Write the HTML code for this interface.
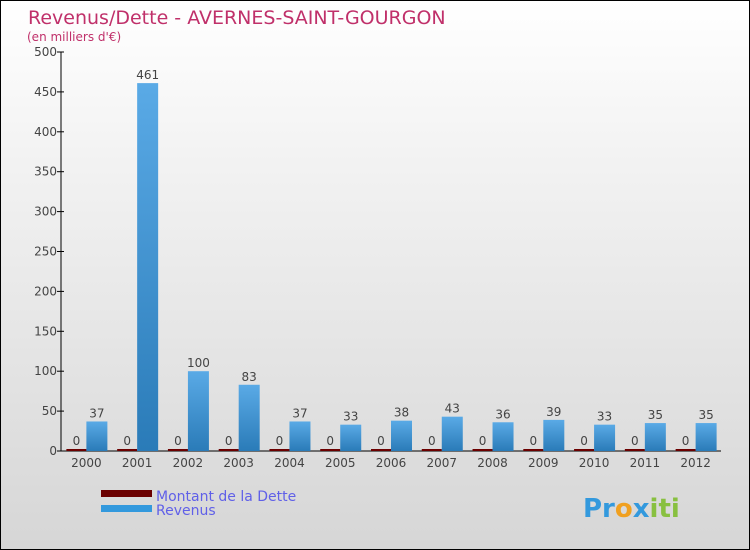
<!DOCTYPE html>
<html><head><meta charset="utf-8"><style>
body{margin:0;}
#c{width:750px;height:550px;position:relative;box-sizing:border-box;border:1px solid #000;background:linear-gradient(#fff,#f2f2f2 30%,#d6d6d6);font-family:"DejaVu Sans","Liberation Sans",sans-serif;overflow:hidden}
svg text{font-family:"DejaVu Sans","Liberation Sans",sans-serif}
</style></head><body>
<div id="c">
<svg id="s" width="750" height="550" xmlns="http://www.w3.org/2000/svg">
<defs>
<linearGradient id="gb" x1="0" y1="0" x2="0" y2="1"><stop offset="0" stop-color="#5aaae6"/><stop offset="1" stop-color="#2a7bb8"/></linearGradient>
</defs>
<text x="27" y="23" font-size="19" fill="#c0306a">Revenus/Dette - AVERNES-SAINT-GOURGON</text>
<text x="26" y="40" font-size="12" fill="#c0306a">(en milliers d'€)</text>
<g id="plot"></g>
<g>
<rect x="100" y="489" width="51" height="7" fill="#6b0000"/>
<text x="155" y="500" font-size="14" fill="#6060e8">Montant de la Dette</text>
<rect x="100" y="504" width="51" height="7" fill="#3399dd"/>
<text x="155" y="514" font-size="14" fill="#6060e8">Revenus</text>
</g>
<text x="582" y="516" font-size="26" font-weight="bold" fill="#f0a020"><tspan fill="#3399dd">Pr</tspan><tspan fill="#f0a020">o</tspan><tspan fill="#3399dd">x</tspan><tspan fill="#88c040">iti</tspan></text>
</svg>
</div>
<script>
const years=["2000","2001","2002","2003","2004","2005","2006","2007","2008","2009","2010","2011","2012"];
const revenus=[37,461,100,83,37,33,38,43,36,39,33,35,35];
const dette=[0,0,0,0,0,0,0,0,0,0,0,0,0];
const yTicks=[0,50,100,150,200,250,300,350,400,450,500];
const NS="http://www.w3.org/2000/svg";
const g=document.getElementById('plot');
const x0=60,x1=720,yb=450,yt=51,ymax=500;
const bw=(x1-x0)/years.length;
const Y=v=>yb-(v/ymax)*(yb-yt);
const X=i=>x0+bw*(i+0.5);
function mk(t,a){const e=document.createElementNS(NS,t);for(const k in a)e.setAttribute(k,a[k]);g.appendChild(e);return e;}
let ax=mk('line',{x1:x0,y1:yt,x2:x0,y2:yb,stroke:'#000'});


let bx=mk('line',{x1:x0,y1:yb,x2:x1,y2:yb,stroke:'#000'});


yTicks.forEach(v=>{
 const t=mk('line',{x1:x0-4,x2:x0+3,y1:Y(v),y2:Y(v),stroke:'#000'});
 
 
 const l=mk('text',{x:x0-4,y:Y(v)+4,'font-size':12,fill:'#444','text-anchor':'end'});
 l.textContent=v;
 
 
});
years.forEach((yr,i)=>{
 const c=X(i);
 const d=mk('rect',{x:c-20,y:Y(dette[i])-2,width:20,height:Math.max(2,yb-Y(dette[i])),fill:'#6b0000'});
 
 
 const dl=mk('text',{x:c-10,y:Y(dette[i])-6,'font-size':12,fill:'#444','text-anchor':'middle'});
 dl.textContent=dette[i];
 
 
 const r=mk('rect',{x:c,y:Y(revenus[i]),width:21,height:yb-Y(revenus[i]),fill:'url(#gb)'});
 
 
 const rl=mk('text',{x:c+10.5,y:Y(revenus[i])-4,'font-size':12,fill:'#444','text-anchor':'middle'});
 rl.textContent=revenus[i];
 
 
 const xl=mk('text',{x:c,y:466,'font-size':12,fill:'#444','text-anchor':'middle'});
 xl.textContent=yr;
 
 
});
</script>
</body></html>
